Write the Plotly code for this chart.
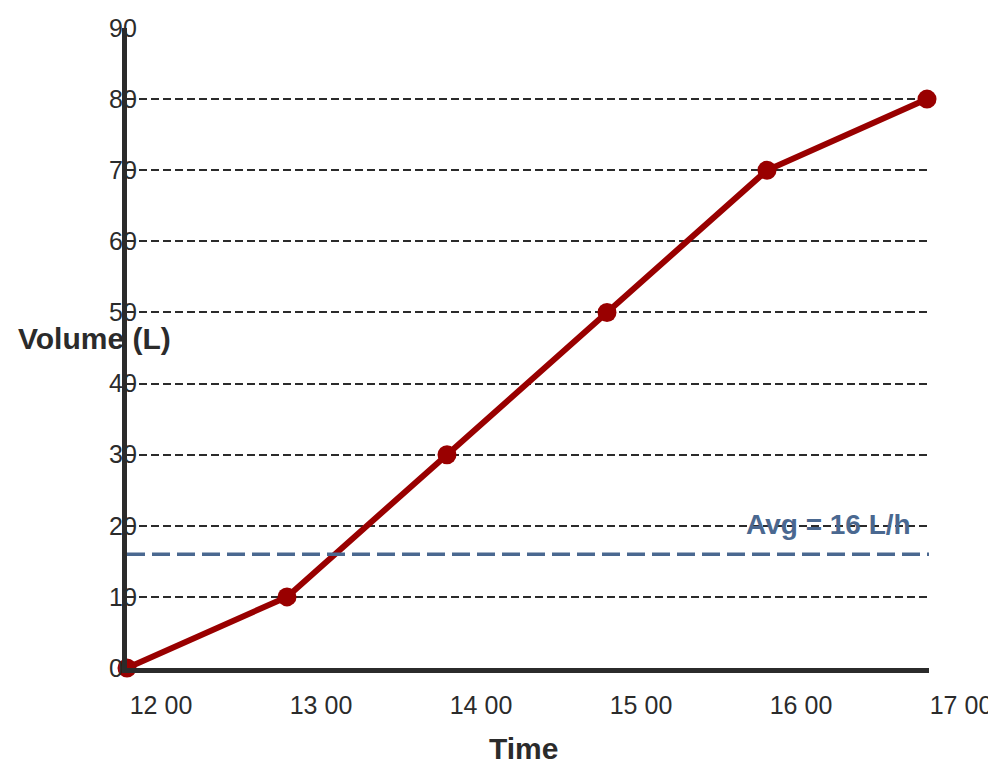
import plotly.graph_objects as go

# hours after 12:00 and cumulative volume
hours = [0, 1, 2, 3, 4, 5]
volume = [0, 10, 30, 50, 70, 80]
time_labels = ["12 00", "13 00", "14 00", "15 00", "16 00", "17 00"]
avg_rate = 16
y_ticks = [0, 10, 20, 30, 40, 50, 60, 70, 80, 90]

RED = "#990000"
BLUE = "#4a6890"
INK = "#2b2b2b"
FONT = "Liberation Sans, Arial, sans-serif"

fig = go.Figure()

fig.add_trace(go.Scatter(
    x=hours, y=volume,
    mode="lines+markers",
    line=dict(color=RED, width=6),
    marker=dict(color=RED, size=19),
    cliponaxis=False,
    showlegend=False,
))

# average rate reference line
fig.add_shape(type="line", xref="paper", yref="y",
              x0=0, x1=1, y0=avg_rate, y1=avg_rate,
              line=dict(color=BLUE, width=3.5, dash="18px,7px"))

fig.add_annotation(x=4.91, y=avg_rate, xref="x", yref="y",
                   text="<b>Avg = %d L/h</b>" % avg_rate,
                   showarrow=False, xanchor="right", yanchor="bottom",
                   yshift=12, font=dict(family=FONT, size=28, color=BLUE))

fig.add_annotation(xref="paper", yref="paper", x=-0.041, y=0.515,
                   text="<b>Volume (L)</b>", showarrow=False,
                   xanchor="center", yanchor="middle",
                   font=dict(family=FONT, size=30, color=INK))

fig.add_annotation(xref="paper", yref="paper", x=0.494, y=0,
                   text="<b>Time</b>", showarrow=False,
                   xanchor="center", yanchor="middle", yshift=-80,
                   font=dict(family=FONT, size=30, color=INK))

fig.update_xaxes(
    range=[0, 5.0125],
    tickvals=hours, ticktext=time_labels,
    ticklabelshift=34, ticklabelstandoff=11,
    ticklabeloverflow="allow",
    automargin=False,
    showgrid=False, zeroline=False,
    showline=True, linecolor=INK, linewidth=5,
    tickfont=dict(family=FONT, size=25, color=INK),
)
fig.update_yaxes(
    range=[0, 90],
    tickvals=y_ticks,
    ticklabelposition="inside",
    ticklabelstandoff=-16,
    ticklabeloverflow="allow",
    automargin=False,
    showgrid=True, gridcolor=INK, gridwidth=2, griddash="8px,4px",
    zeroline=False,
    showline=True, linecolor=INK, linewidth=5,
    tickfont=dict(family=FONT, size=25, color=INK),
)

fig.update_layout(
    width=980, height=761,
    margin=dict(l=119, r=59, t=20, b=101),
    plot_bgcolor="white", paper_bgcolor="white",
)

fig.write_html("out.html")
